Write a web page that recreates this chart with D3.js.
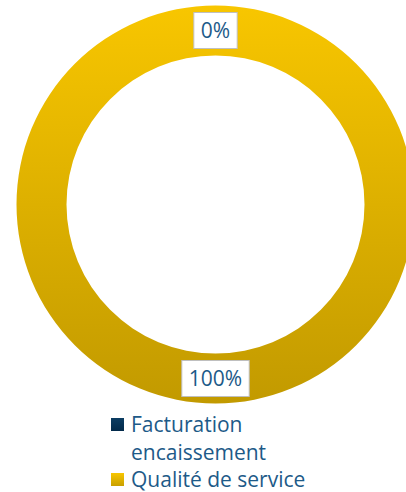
<!DOCTYPE html>
<html>
<head>
<meta charset="utf-8">
<script src="https://cdn.jsdelivr.net/npm/d3@7"></script>
<style>
  body { margin: 0; background: #fff; }
  svg { display: block; font-family: "Open Sans", Lato, sans-serif; }
</style>
</head>
<body>
<svg width="406" height="492"></svg>
<script>
const categories = ['Facturation encaissement', 'Qualité de service'];
const values = [0, 100];
const labels = ['0%', '100%'];

const svg = d3.select('svg'),
    cx = 215.5,
    cy = 204.5,
    outerRadius = 199,
    innerRadius = 149,
    textColor = '#1d5a88';

const defs = svg.append('defs');

// gradient coords are in the ring group's own space (centred on 0,0)
const ringGrad = defs.append('linearGradient')
    .attr('id', 'ringGrad')
    .attr('gradientUnits', 'userSpaceOnUse')
    .attr('x1', 0).attr('x2', 0)
    .attr('y1', -outerRadius).attr('y2', outerRadius);
ringGrad.append('stop').attr('offset', '0%').attr('stop-color', '#f8c600');
ringGrad.append('stop').attr('offset', '100%').attr('stop-color', '#c29a00');

const navyGrad = defs.append('linearGradient')
    .attr('id', 'navyGrad')
    .attr('x1', 0).attr('x2', 0).attr('y1', 0).attr('y2', 1);
navyGrad.append('stop').attr('offset', '0%').attr('stop-color', '#0c3d63');
navyGrad.append('stop').attr('offset', '100%').attr('stop-color', '#022a4a');

const yellowGrad = defs.append('linearGradient')
    .attr('id', 'yellowGrad')
    .attr('x1', 0).attr('x2', 0).attr('y1', 0).attr('y2', 1);
yellowGrad.append('stop').attr('offset', '0%').attr('stop-color', '#f8c600');
yellowGrad.append('stop').attr('offset', '100%').attr('stop-color', '#c9a000');

const fills = ['url(#navyGrad)', 'url(#ringGrad)'];
const legendFills = ['url(#navyGrad)', 'url(#yellowGrad)'];

const data = categories.map((c, i) => ({ name: c, value: values[i], label: labels[i] }));

const pie = d3.pie().sort(null).value(d => d.value);
const arcs = pie(data);

const arc = d3.arc().innerRadius(innerRadius).outerRadius(outerRadius);
const labelArc = d3.arc().innerRadius((innerRadius + outerRadius) / 2).outerRadius((innerRadius + outerRadius) / 2);

const g = svg.append('g').attr('transform', 'translate(' + cx + ',' + cy + ')');

g.selectAll('path')
    .data(arcs)
    .enter()
    .append('path')
    .attr('fill', (d, i) => fills[i])
    .attr('d', arc);

// data labels in white boxes
const lab = g.append('g')
    .selectAll('g')
    .data(arcs)
    .enter()
    .append('g')
    .attr('transform', d => 'translate(' + labelArc.centroid(d) + ')');

const labText = lab.append('text')
    .attr('text-anchor', 'middle')
    .attr('dy', '0.36em')
    .attr('fill', textColor)
    .style('font-size', '21px')
    .text(d => d.data.label);

labText.each(function () {
    const b = this.getBBox();
    d3.select(this.parentNode).insert('rect', 'text')
        .attr('x', b.x - 7)
        .attr('y', -18)
        .attr('width', b.width + 14)
        .attr('height', 36)
        .attr('fill', '#fff')
        .attr('stroke', '#bfbfbf')
        .attr('stroke-width', 1);
});

// legend
const legend = svg.append('g').attr('transform', 'translate(111,0)');
const legendRows = [['Facturation', 'encaissement'], ['Qualité de service']];
const legendY = [418, 473];

legendRows.forEach((lines, i) => {
    const row = legend.append('g').attr('transform', 'translate(0,' + legendY[i] + ')');
    row.append('rect')
        .attr('width', 13)
        .attr('height', 13)
        .attr('fill', legendFills[i]);
    lines.forEach((t, j) => {
        row.append('text')
            .attr('x', 20)
            .attr('y', 14 + j * 28)
            .attr('fill', textColor)
            .style('font-size', '21px')
            .text(t);
    });
});
</script>
</body>
</html>
